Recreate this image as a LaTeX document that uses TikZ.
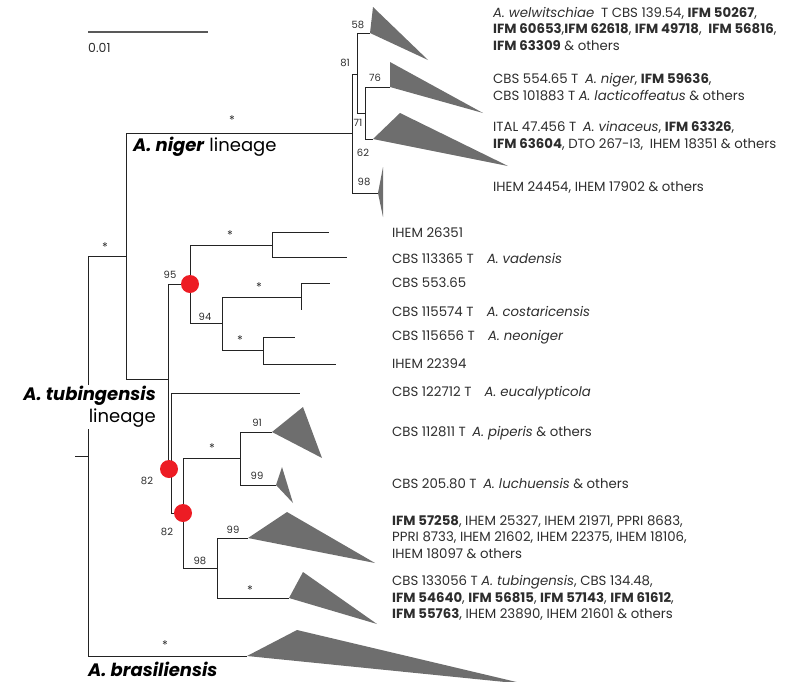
\documentclass[tikz,border=0pt]{standalone}
\usepackage{fontspec}
\setmainfont{Poppins}
\definecolor{branchgrey}{RGB}{35,35,35}
\definecolor{cladegrey}{RGB}{110,110,110}
\definecolor{labelgrey}{RGB}{45,45,45}
\definecolor{nodered}{RGB}{237,28,36}

\begin{document}
\begin{tikzpicture}[
  x=1pt, y=-1pt,
  branch/.style={draw=branchgrey, line width=0.9pt},
  clade/.style={fill=cladegrey},
  taxon/.style={anchor=west, inner sep=0pt, align=left, text=labelgrey, font=\fontsize{13.3}{16.5}\selectfont},
  support/.style={inner sep=0pt, text=labelgrey, font=\fontsize{10}{11}\selectfont},
  bigsup/.style={inner sep=0pt, text=labelgrey, font=\fontsize{12}{12}\selectfont, yshift=2.5pt},
  keynode/.style={circle, fill=nodered, inner sep=0pt, minimum size=18pt},
  lineage/.style={inner sep=1pt, text=black, font=\fontsize{18}{22}\selectfont}
]
  \useasboundingbox (0,0) rectangle (789,681);
  \clip (0,0) rectangle (789,681);

  % Barra de escala
  \coordinate (sbL) at (88,32);
  \coordinate (sbR) at (208,32);
  \draw[draw=black!65, line width=1.3pt] (sbL) -- (sbR);
  \node[taxon, font=\fontsize{12.5}{14}\selectfont] (sbtext) at (88,48) {0.01};

  % Nodos internos
  \coordinate (stub) at (75,456);
  \coordinate (root) at (88,456);
  \coordinate (nt) at (126,256);
  \coordinate (nN) at (352,133);
  \coordinate (n81) at (357,74);
  \coordinate (n71) at (365,113);
  \coordinate (nT) at (168,379);
  \coordinate (n95) at (190,284);
  \coordinate (nA) at (272,245);
  \coordinate (n94) at (222,323);
  \coordinate (nB) at (301,297);
  \coordinate (nC) at (263,350);
  \coordinate (n82a) at (171,469);
  \coordinate (n82b) at (183,513);
  \coordinate (nD) at (240,458);
  \coordinate (n98) at (217,568);

  % Puntas de las ramas
  \coordinate (t58) at (370,33);
  \coordinate (t76) at (390,87);
  \coordinate (t62) at (373,139);
  \coordinate (t98) at (378,193);
  \coordinate (tIHEMa) at (329,232);
  \coordinate (tvad) at (347,257);
  \coordinate (t553) at (330,283);
  \coordinate (tcos) at (301,310);
  \coordinate (tneo) at (295,337);
  \coordinate (tIHEMb) at (336,364);
  \coordinate (teuc) at (300,393);
  \coordinate (t91) at (272,432);
  \coordinate (t99a) at (276,485);
  \coordinate (t99b) at (248,538);
  \coordinate (ttub) at (289,598);
  \coordinate (tbra) at (247,656);

  % Ramas
  \draw[branch] (stub) -- (root);
  \draw[branch] (root) |- (nt);
  \draw[branch] (root) |- (tbra);
  \draw[branch] (nt) |- (nN);
  \draw[branch] (nt) |- (nT);
  \draw[branch] (nN) |- (n81);
  \draw[branch] (nN) |- (t98);
  \draw[branch] (n81) |- (t58);
  \draw[branch] (n81) |- (n71);
  \draw[branch] (n71) |- (t76);
  \draw[branch] (n71) |- (t62);
  \draw[branch] (nT) |- (n95);
  \draw[branch] (nT) |- (n82a);
  \draw[branch] (n95) |- (nA);
  \draw[branch] (n95) |- (n94);
  \draw[branch] (nA) |- (tIHEMa);
  \draw[branch] (nA) |- (tvad);
  \draw[branch] (n94) |- (nB);
  \draw[branch] (n94) |- (nC);
  \draw[branch] (nB) |- (t553);
  \draw[branch] (nB) |- (tcos);
  \draw[branch] (nC) |- (tneo);
  \draw[branch] (nC) |- (tIHEMb);
  \draw[branch] (n82a) |- (teuc);
  \draw[branch] (n82a) |- (n82b);
  \draw[branch] (n82b) |- (nD);
  \draw[branch] (n82b) |- (n98);
  \draw[branch] (nD) |- (t91);
  \draw[branch] (nD) |- (t99a);
  \draw[branch] (n98) |- (t99b);
  \draw[branch] (n98) |- (ttub);

  % Clados colapsados
  \fill[clade] (t58) -- (373,7) -- (428,60) -- cycle;
  \fill[clade] (t76) -- (390,62) -- (483,113) -- cycle;
  \fill[clade] (t62) -- (400,113) -- (508,166) -- cycle;
  \fill[clade] (t98) -- (383,167) -- (383,217) -- cycle;
  \fill[clade] (t91) -- (303,407) -- (322,458) -- cycle;
  \fill[clade] (t99a) -- (282,467) -- (293,503) -- cycle;
  \fill[clade] (t99b) -- (287,512) -- (375,563) -- cycle;
  \fill[clade] (ttub) -- (303,572) -- (377,624) -- cycle;
  \fill[clade] (tbra) -- (297,630) -- (525,684) -- cycle;

  % Nodos destacados
  \node[keynode] (k95) at (190,284) {};
  \node[keynode] (k82a) at (169,469) {};
  \node[keynode] (k82b) at (183,513) {};

  % Valores de soporte
  \node[support] (s58) at (358,25) {58};
  \node[support] (s81) at (345,63) {81};
  \node[support] (s76) at (375,78) {76};
  \node[support] (s71) at (358,123) {71};
  \node[support] (s62) at (363,153) {62};
  \node[support] (s98a) at (364,182) {98};
  \node[support] (s95) at (170,275) {95};
  \node[support] (s94) at (205,317) {94};
  \node[support] (s82a) at (147,481) {82};
  \node[support] (s82b) at (167,532) {82};
  \node[support] (s91) at (257,423) {91};
  \node[support] (s99a) at (257,476) {99};
  \node[support] (s99b) at (233,530) {99};
  \node[support] (s98b) at (200,561) {98};
  \node[bigsup] (st1) at (232,123) {*};
  \node[bigsup] (st2) at (105,250) {*};
  \node[bigsup] (st3) at (230,238) {*};
  \node[bigsup] (st4) at (259,290) {*};
  \node[bigsup] (st5) at (240,343) {*};
  \node[bigsup] (st6) at (212,451) {*};
  \node[bigsup] (st7) at (250,593) {*};
  \node[bigsup] (st8) at (165,648) {*};

  % Etiquetas de linajes
  \node[lineage, anchor=west] (Lnig) at (132,147) {\textbf{\textit{A. niger}} lineage};
  \node[lineage, anchor=east, align=right, fill=white] (Ltub) at (157,407) {\textbf{\textit{A. tubingensis}}\\lineage};
  \node[lineage, anchor=west] (Lbra) at (87,669) {\textbf{\textit{A. brasiliensis}}};

  % Taxones del linaje A. niger
  \node[taxon] (xwel) at (493,29) {\textit{A. welwitschiae}\enspace T CBS 139.54, \textbf{IFM 50267},\\\textbf{IFM 60653},\textbf{IFM 62618}, \textbf{IFM 49718},\enspace\textbf{IFM 56816},\\\textbf{IFM 63309} \& others};
  \node[taxon] (xnig) at (493,87) {CBS 554.65 T\enspace\textit{A. niger}, \textbf{IFM 59636},\\CBS 101883 T \textit{A. lacticoffeatus} \& others};
  \node[taxon] (xvin) at (493,136) {ITAL 47.456 T\enspace\textit{A. vinaceus}, \textbf{IFM 63326},\\\textbf{IFM 63604}, DTO 267-I3,\enspace IHEM 18351 \& others};
  \node[taxon] (xihe) at (493,188) {IHEM 24454, IHEM 17902 \& others};

  % Taxones del linaje A. tubingensis
  \node[taxon] (x26351) at (392,233) {IHEM 26351};
  \node[taxon] (xvad) at (392,258) {CBS 113365 T\quad\textit{A. vadensis}};
  \node[taxon] (x553) at (392,283) {CBS 553.65};
  \node[taxon] (xcos) at (392,311) {CBS 115574 T\quad\textit{A. costaricensis}};
  \node[taxon] (xneo) at (392,337) {CBS 115656 T\quad\textit{A. neoniger}};
  \node[taxon] (x22394) at (392,364) {IHEM 22394};
  \node[taxon] (xeuc) at (392,393) {CBS 122712 T\quad\textit{A. eucalypticola}};
  \node[taxon] (xpip) at (392,433) {CBS 112811 T\enspace\textit{A. piperis} \& others};
  \node[taxon] (xluc) at (392,484) {CBS 205.80 T\enspace\textit{A. luchuensis} \& others};
  \node[taxon] (x57258) at (392,537) {\textbf{IFM 57258}, IHEM 25327, IHEM 21971, PPRI 8683,\\PPRI 8733, IHEM 21602, IHEM 22375, IHEM 18106,\\IHEM 18097 \& others};
  \node[taxon] (xtub) at (392,598) {CBS 133056 T \textit{A. tubingensis}, CBS 134.48,\\\textbf{IFM 54640}, \textbf{IFM 56815}, \textbf{IFM 57143}, \textbf{IFM 61612},\\\textbf{IFM 55763}, IHEM 23890, IHEM 21601 \& others};

\end{tikzpicture}
\end{document}
